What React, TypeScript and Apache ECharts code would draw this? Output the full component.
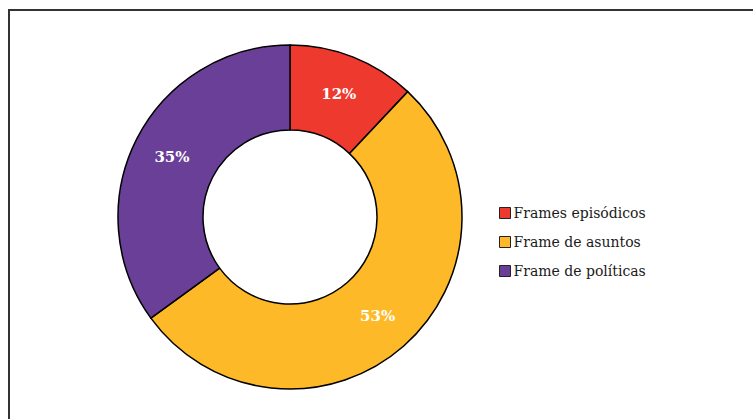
import React, { useEffect, useRef } from "react";
import * as echarts from "echarts";

const categories = ["Frames episódicos", "Frame de asuntos", "Frame de políticas"];
const values = [12, 53, 35];
const colors = ["#EE3A2E", "#FDB927", "#6A3F98"];

export default function App() {
  const ref = useRef<HTMLDivElement>(null);
  useEffect(() => {
    if (!ref.current) return;
    const chart = echarts.init(ref.current, undefined, { renderer: "svg" });
    chart.setOption({
      animation: false,
      backgroundColor: "#ffffff",
      graphic: [
        {
          type: "rect",
          shape: { x: 9, y: 10, width: 800, height: 500 },
          style: { fill: "none", stroke: "#333", lineWidth: 2 },
          z: 10,
        },
      ],
      legend: {
        orient: "vertical",
        left: 499,
        top: 206,
        padding: 0,
        itemWidth: 11,
        itemHeight: 11,
        itemGap: 15,
        icon: "rect",
        itemStyle: { borderColor: "#222", borderWidth: 1 },
        textStyle: { fontFamily: "DejaVu Serif", fontSize: 14, color: "#1a1a1a", padding: [0, 0, 0, -2] },
        data: categories,
      },
      series: [
        {
          type: "pie",
          center: [290, 217],
          radius: [87, 172],
          startAngle: 90,
          clockwise: true,
          label: {
            show: true,
            position: "inside",
            formatter: "{c}%",
            color: "#fff",
            fontFamily: "DejaVu Serif",
            fontWeight: "bold",
            fontSize: 15,
          },
          labelLine: { show: false },
          itemStyle: { borderColor: "#000", borderWidth: 1.5 },
          emphasis: { disabled: true },
          data: categories.map((name, i) => ({
            name,
            value: values[i],
            itemStyle: { color: colors[i] },
          })),
        },
      ],
    });
    return () => chart.dispose();
  }, []);
  return (
    <div
      ref={ref}
      style={{ position: "absolute", left: 0, top: 0, width: 753, height: 419 }}
    />
  );
}
